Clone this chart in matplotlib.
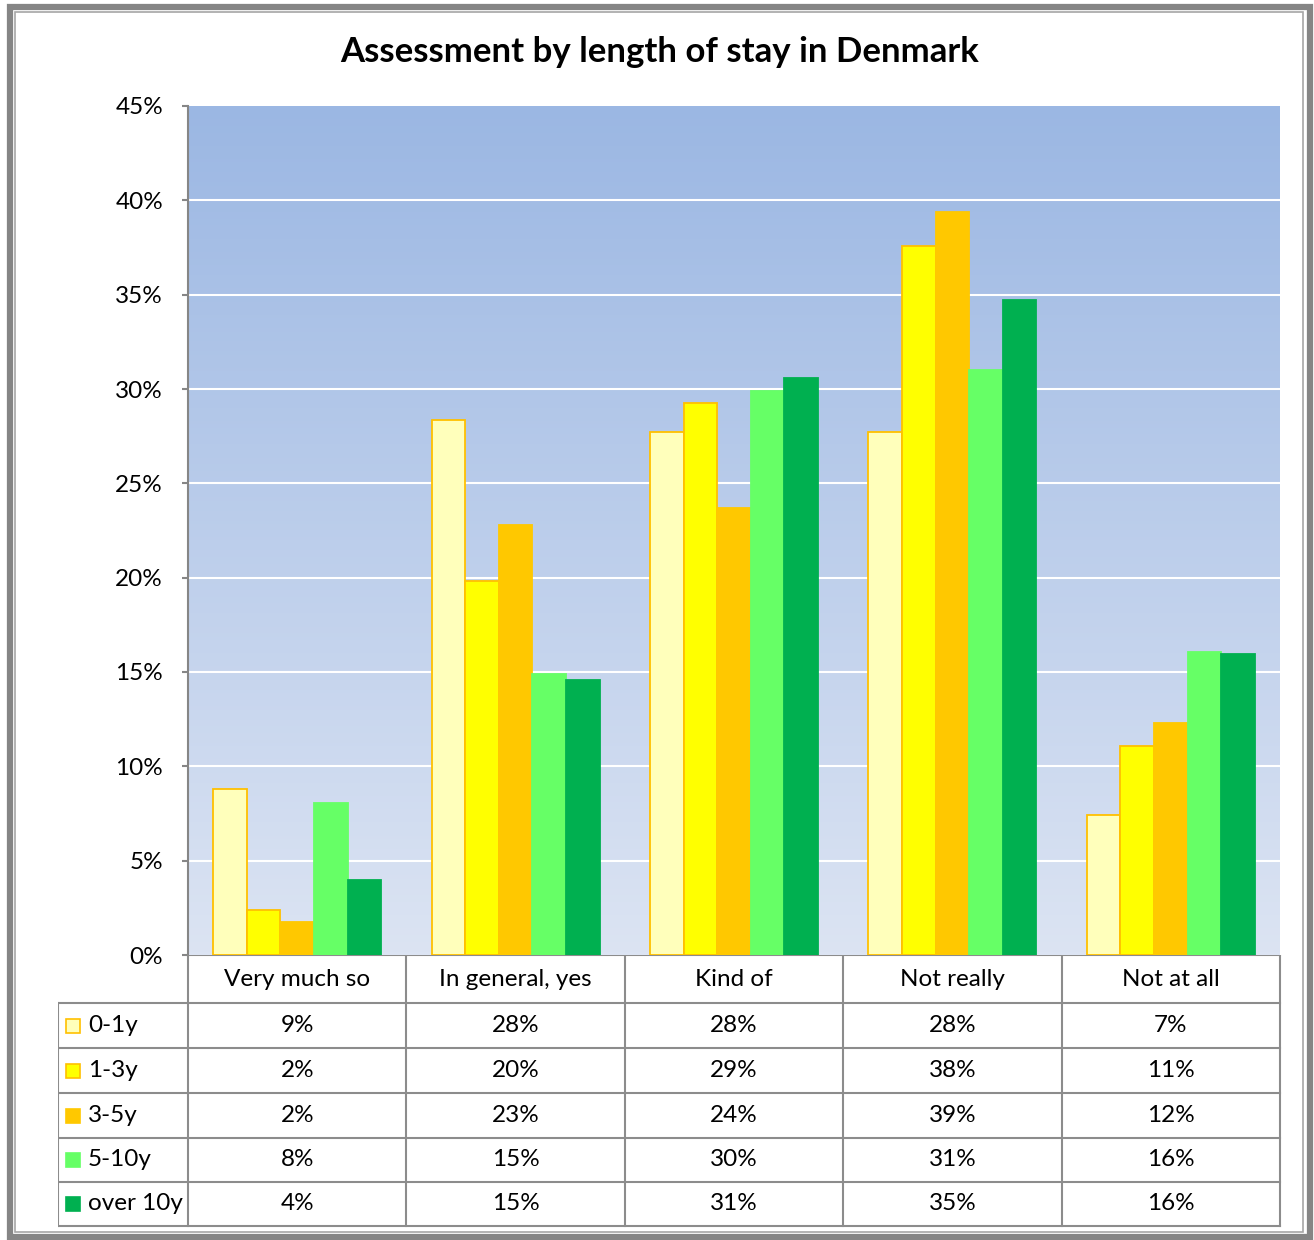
import matplotlib.pyplot as plt
from matplotlib.patches import Rectangle
import numpy as np

categories = ["Very much so", "In general, yes", "Kind of", "Not really", "Not at all"]
groups = ["0-1y", "1-3y", "3-5y", "5-10y", "over 10y"]
# percent values per length-of-stay group (one value per category)
v_0_1 = [8.8, 28.35, 27.7, 27.7, 7.4]
v_1_3 = [2.4, 19.8, 29.25, 37.6, 11.1]
v_3_5 = [1.75, 22.8, 23.7, 39.4, 12.3]
v_5_10 = [8.05, 14.9, 29.9, 31.0, 16.05]
v_over10 = [4.0, 14.6, 30.6, 34.7, 15.95]
series = [v_0_1, v_1_3, v_3_5, v_5_10, v_over10]

colors = ["#FFFFBB", "#FFFF00", "#FFC800", "#66FF66", "#00B050"]
edges = ["#FFC000", "#FFC000", "#FFC800", "#66FF66", "#00B050"]

plt.rcParams['font.family'] = ['Lato', 'DejaVu Sans']

W, H = 1314, 1240
fig = plt.figure(figsize=(W / 100, H / 100), dpi=100)

def box(x0, y0, x1, y1):
    # pixel box (top-left origin) -> figure fraction rect
    return [x0 / W, 1 - y1 / H, (x1 - x0) / W, (y1 - y0) / H]

# outer frame
fig.patches.append(Rectangle((10 / W, 1 - 1237 / H), 1300 / W, 1230 / H, transform=fig.transFigure,
                             fill=False, edgecolor="#858585", lw=4.5))
fig.patches.append(Rectangle((15 / W, 1 - 1232 / H), 1288 / W, 1220 / H, transform=fig.transFigure,
                             fill=False, edgecolor="#A6A6A6", lw=1.2))

fig.text(660 / W, 1 - 52 / H, "Assessment by length of stay in Denmark", ha="center", va="center",
         fontsize=25, fontweight="bold")

ax = fig.add_axes(box(188, 106, 1280, 955))
ymax = 45
# gradient background
grad = np.linspace(0, 1, 256).reshape(-1, 1)
top = np.array([155, 183, 227]) / 255
bot = np.array([220, 228, 243]) / 255
img = top + (bot - top) * grad[:, :, None] * np.ones((1, 1, 3))
ax.imshow(img, extent=(-0.5, 4.5, 0, ymax), aspect="auto", zorder=0, origin="upper")

x = np.arange(len(categories))
bw = 0.154
for i, vals in enumerate(series):
    ax.bar(x + (i - 2) * bw, vals, bw, color=colors[i], edgecolor=edges[i], linewidth=1.3, zorder=3)

ax.set_xlim(-0.5, 4.5)
ax.set_ylim(0, ymax)
ax.set_yticks(range(0, 50, 5))
ax.set_yticklabels([f"{t}%" for t in range(0, 50, 5)], fontsize=17.5)
for t in range(5, 45, 5):
    ax.axhline(t, color="white", lw=1.5, zorder=1)
ax.set_xticks([])
for s in ["top", "right", "bottom"]:
    ax.spines[s].set_visible(False)
ax.spines["left"].set_color("#868686")
ax.spines["left"].set_linewidth(1.5)
ax.tick_params(axis="y", direction="out", length=4, width=1.5, color="#868686", pad=14)

# data table
tx = fig.add_axes(box(58, 955, 1282, 1228))
left_w = 130 / 218.4
tx.set_xlim(-0.5 - left_w, 4.5 + 2 / 218.4)
row_edges = [0, 48, 93, 138, 183, 227, 271]
tx.set_ylim(273, 0)
tx.axis("off")
lc = "#8C8C8C"
lw = 1.5
# horizontal lines
tx.plot([-0.5, 4.5], [0, 0], color=lc, lw=lw)
for yy in row_edges[1:]:
    tx.plot([-0.5 - left_w, 4.5], [yy, yy], color=lc, lw=lw)
# vertical lines
tx.plot([-0.5 - left_w] * 2, [48, 271], color=lc, lw=lw)
for xx in np.arange(-0.5, 5, 1):
    tx.plot([xx, xx], [0, 271], color=lc, lw=lw)

for j, c in enumerate(categories):
    tx.text(j, 24, c, ha="center", va="center", fontsize=17.5)
for i, (g, vals) in enumerate(zip(groups, series)):
    yc = (row_edges[i + 1] + row_edges[i + 2]) / 2
    kx = -0.5 - left_w + 8 / 218.4
    tx.add_patch(Rectangle((kx, yc - 7), 14 / 218.4, 14, facecolor=colors[i], edgecolor=edges[i], lw=1.2))
    tx.text(kx + 22 / 218.4, yc, g, ha="left", va="center", fontsize=17.5)
    for j, v in enumerate(vals):
        tx.text(j, yc, f"{v:.0f}%", ha="center", va="center", fontsize=17.5)

fig.savefig("out.png", dpi=100)
